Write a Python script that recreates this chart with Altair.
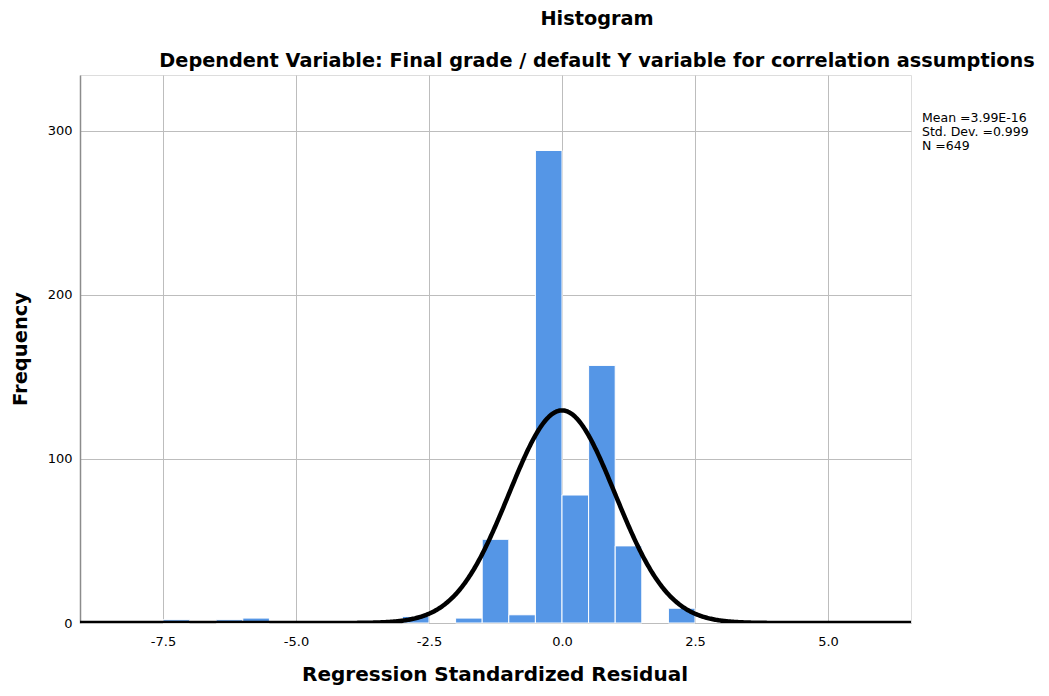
import altair as alt
import pandas as pd

# Histogram bins (bin width 0.5)
bin_start = [-7.5, -6.5, -6.0, -3.0, -2.0, -1.5, -1.0, -0.5, 0.0, 0.5, 1.0, 2.0]
counts    = [2,    2,    3,    4,    3,    51,   5,    288,  78,  157, 47,  9]
bin_width = 0.5

mean = 3.99e-16
sd = 0.999
n = 649

x_ticks = [-7.5, -5.0, -2.5, 0.0, 2.5, 5.0]
y_ticks = [0, 100, 200, 300]
legend_lines = ["Mean =3.99E-16", "Std. Dev. =0.999", "N =649"]
title_text = "Histogram"
subtitle_text = "Dependent Variable: Final grade / default Y variable for correlation assumptions"
x_title = "Regression Standardized Residual"
y_title = "Frequency"

X_MIN, X_MAX = -9.06, 6.56
Y_MAX = 334

FONT = "DejaVu Sans"

bars_df = pd.DataFrame({
    "start": bin_start,
    "end": [b + bin_width for b in bin_start],
    "count": counts,
})

xscale = alt.Scale(domain=[X_MIN, X_MAX], nice=False, zero=False)
yscale = alt.Scale(domain=[0, Y_MAX], nice=False)

xaxis = alt.Axis(values=x_ticks, format=".1f", title=None,
                 labelExpr="replace(datum.label, '\u2212', '-')",
                 grid=True, gridColor="#bdbdbd", gridWidth=1, ticks=False, domain=False,
                 labelFont=FONT, labelFontSize=13, labelColor="#000", labelPadding=12)
yaxis = alt.Axis(values=y_ticks, title=None,
                 grid=True, gridColor="#bdbdbd", gridWidth=1, ticks=False,
                 domain=True, domainColor="#8c8c8c", domainWidth=1.5,
                 labelFont=FONT, labelFontSize=13, labelColor="#000", labelPadding=8)

bars = alt.Chart(bars_df).mark_bar(color="#5596E6", stroke="white", strokeWidth=1).encode(
    x=alt.X("start:Q", scale=xscale, axis=xaxis),
    x2="end:Q",
    y=alt.Y("count:Q", scale=yscale, axis=yaxis),
    y2=alt.datum(0),
)

curve = alt.Chart(alt.sequence(X_MIN, X_MAX + 0.01, 0.02, as_="x")).transform_calculate(
    y=f"{n}*{bin_width}/({sd}*sqrt(2*PI))*exp(-0.5*pow((datum.x-{mean})/{sd},2))"
).mark_line(color="black", strokeWidth=4.5, clip=True).encode(
    x=alt.X("x:Q", scale=xscale),
    y=alt.Y("y:Q", scale=yscale),
)

one = pd.DataFrame({"k": [0]})

legend = alt.Chart(one).mark_text(
    align="left", baseline="alphabetic", font=FONT, fontSize=12.5, color="#000",
    text=legend_lines, lineHeight=14
).encode(x=alt.value(842), y=alt.value(47))

title = alt.Chart(one).mark_text(font=FONT, fontSize=19.3, fontWeight="bold", color="#000",
                                 align="center", baseline="alphabetic", text=title_text).encode(
    x=alt.value(517), y=alt.value(-50))
subtitle = alt.Chart(one).mark_text(font=FONT, fontSize=19.3, fontWeight="bold", color="#000",
                                    align="center", baseline="alphabetic", text=subtitle_text).encode(
    x=alt.value(517), y=alt.value(-8))
xtitle = alt.Chart(one).mark_text(font=FONT, fontSize=20, fontWeight="bold", color="#000",
                                  align="center", baseline="alphabetic", text=x_title).encode(
    x=alt.value(415), y=alt.value(606))
ytitle = alt.Chart(one).mark_text(font=FONT, fontSize=19.5, fontWeight="bold", color="#000",
                                  align="center", baseline="middle", angle=270, text=y_title).encode(
    x=alt.value(-59), y=alt.value(274))

chart = alt.layer(bars, curve, legend, title, subtitle, xtitle, ytitle).properties(
    width=831, height=548,
    autosize=alt.AutoSizeParams(type="none"),
    padding={"left": 72, "top": 67, "right": 130, "bottom": 65},
).configure_view(stroke=None).configure(background="white")

chart.save("out.html", embed_options={"renderer": "svg", "actions": False})
